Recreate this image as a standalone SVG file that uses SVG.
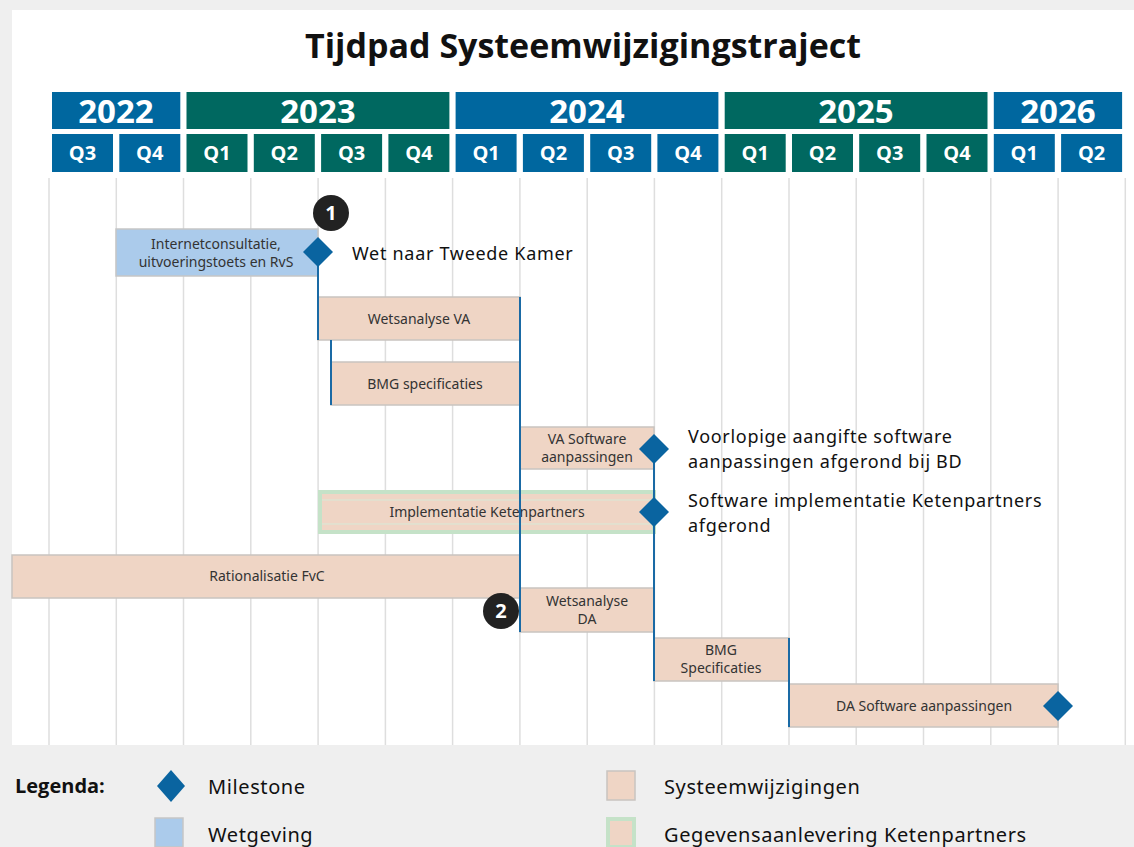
<svg xmlns="http://www.w3.org/2000/svg" width="1134" height="847" viewBox="0 0 1134 847">
<style>
.bg{fill:#efefef}
.panel{fill:#ffffff}
.grid{stroke:#dedede;stroke-width:1.5}
.yb{fill:#00679f}
.yt{fill:#006860}
.yr{font-family:"Open Sans","Noto Sans",sans-serif;font-weight:700;font-size:33px;fill:#fff;text-anchor:middle}
.qr{font-family:"Open Sans","Noto Sans",sans-serif;font-weight:700;font-size:20px;fill:#fff;text-anchor:middle}
.title{font-family:"Open Sans","Noto Sans",sans-serif;font-weight:700;font-size:34px;fill:#111;text-anchor:middle}
.sys{fill:#efd5c5;stroke:#c9c4c0;stroke-width:1.5}
.wet{fill:#abcbeb;stroke:#c6c6c6;stroke-width:1.5}
.gev{fill:#efd5c5;stroke:#c5e2c8;stroke-width:4}
.bt{font-family:"Noto Sans","Open Sans",sans-serif;font-size:14px;fill:#333;text-anchor:middle}
.ml{font-family:"Noto Sans","Open Sans",sans-serif;font-size:18px;letter-spacing:0.7px;fill:#111}
.ms{fill:#0a64a0}
.con{stroke:#1a6aa5;stroke-width:2;fill:none}
.num{fill:#222}
.nt{font-family:"Open Sans","Noto Sans",sans-serif;font-weight:700;font-size:20px;fill:#fff;text-anchor:middle}
.lg{font-family:"Noto Sans","Open Sans",sans-serif;font-size:20px;letter-spacing:0.6px;fill:#111}
.lgb{font-family:"Open Sans","Noto Sans",sans-serif;font-size:20px;font-weight:700;fill:#111}
</style>
<rect class="bg" x="0" y="0" width="1134" height="847"/>
<rect class="panel" x="12" y="10" width="1122" height="735"/>
<text class="title" x="583" y="58">Tijdpad Systeemwijzigingstraject</text>

<g id="header">
<rect class="yb" x="52" y="92" width="128.3" height="37"/>
<rect class="yt" x="186.5" y="92" width="262.9" height="37"/>
<rect class="yb" x="455.6" y="92" width="262.8" height="37"/>
<rect class="yt" x="724.7" y="92" width="262.8" height="37"/>
<rect class="yb" x="993.8" y="92" width="128.3" height="37"/>
<text class="yr" x="116" y="123">2022</text>
<text class="yr" x="318" y="123">2023</text>
<text class="yr" x="587" y="123">2024</text>
<text class="yr" x="856" y="123">2025</text>
<text class="yr" x="1058" y="123">2026</text>
<rect class="yb" x="52" y="134" width="61" height="38"/>
<rect class="yb" x="119.3" y="134" width="61" height="38"/>
<rect class="yt" x="186.5" y="134" width="61" height="38"/>
<rect class="yt" x="253.8" y="134" width="61" height="38"/>
<rect class="yt" x="321.1" y="134" width="61" height="38"/>
<rect class="yt" x="388.4" y="134" width="61" height="38"/>
<rect class="yb" x="455.6" y="134" width="61" height="38"/>
<rect class="yb" x="522.9" y="134" width="61" height="38"/>
<rect class="yb" x="590.2" y="134" width="61" height="38"/>
<rect class="yb" x="657.4" y="134" width="61" height="38"/>
<rect class="yt" x="724.7" y="134" width="61" height="38"/>
<rect class="yt" x="792" y="134" width="61" height="38"/>
<rect class="yt" x="859.2" y="134" width="61" height="38"/>
<rect class="yt" x="926.5" y="134" width="61" height="38"/>
<rect class="yb" x="993.8" y="134" width="61" height="38"/>
<rect class="yb" x="1061.1" y="134" width="61" height="38"/>
<text class="qr" x="82.5" y="160">Q3</text>
<text class="qr" x="149.8" y="160">Q4</text>
<text class="qr" x="217" y="160">Q1</text>
<text class="qr" x="284.3" y="160">Q2</text>
<text class="qr" x="351.6" y="160">Q3</text>
<text class="qr" x="418.9" y="160">Q4</text>
<text class="qr" x="486.1" y="160">Q1</text>
<text class="qr" x="553.4" y="160">Q2</text>
<text class="qr" x="620.7" y="160">Q3</text>
<text class="qr" x="687.9" y="160">Q4</text>
<text class="qr" x="755.2" y="160">Q1</text>
<text class="qr" x="822.5" y="160">Q2</text>
<text class="qr" x="889.7" y="160">Q3</text>
<text class="qr" x="957" y="160">Q4</text>
<text class="qr" x="1024.3" y="160">Q1</text>
<text class="qr" x="1091.6" y="160">Q2</text>
</g>

<g id="grid">
<line class="grid" x1="49" y1="178" x2="49" y2="745"/>
<line class="grid" x1="116.3" y1="178" x2="116.3" y2="745"/>
<line class="grid" x1="183.5" y1="178" x2="183.5" y2="745"/>
<line class="grid" x1="250.8" y1="178" x2="250.8" y2="745"/>
<line class="grid" x1="318.1" y1="178" x2="318.1" y2="745"/>
<line class="grid" x1="385.4" y1="178" x2="385.4" y2="745"/>
<line class="grid" x1="452.6" y1="178" x2="452.6" y2="745"/>
<line class="grid" x1="519.9" y1="178" x2="519.9" y2="745"/>
<line class="grid" x1="587.2" y1="178" x2="587.2" y2="745"/>
<line class="grid" x1="654.4" y1="178" x2="654.4" y2="745"/>
<line class="grid" x1="721.7" y1="178" x2="721.7" y2="745"/>
<line class="grid" x1="789" y1="178" x2="789" y2="745"/>
<line class="grid" x1="856.2" y1="178" x2="856.2" y2="745"/>
<line class="grid" x1="923.5" y1="178" x2="923.5" y2="745"/>
<line class="grid" x1="990.8" y1="178" x2="990.8" y2="745"/>
<line class="grid" x1="1058.1" y1="178" x2="1058.1" y2="745"/>
<line class="grid" x1="1125.3" y1="178" x2="1125.3" y2="745"/>
</g>

<g id="internetconsultatie">
<rect class="wet" x="116" y="229" width="202" height="47"/>
<text class="bt" x="216" y="249">Internetconsultatie,</text>
<text class="bt" x="216" y="267">uitvoeringstoets en RvS</text>
</g>
<g id="wetsanalyse-va">
<rect class="sys" x="318" y="297" width="202" height="43"/>
<text class="bt" x="419" y="324">Wetsanalyse VA</text>
</g>
<g id="bmg-specificaties">
<rect class="sys" x="331" y="362" width="189" height="43"/>
<text class="bt" x="425" y="389">BMG specificaties</text>
</g>
<g id="va-software">
<rect class="sys" x="520" y="427" width="134" height="42"/>
<text class="bt" x="587" y="444">VA Software</text>
<text class="bt" x="587" y="462">aanpassingen</text>
</g>
<g id="implementatie-ketenpartners">
<rect class="gev" x="320" y="492" width="334" height="40"/>
<line x1="322" y1="500" x2="652" y2="500" stroke="#d7ead8" stroke-width="1"/>
<line x1="322" y1="524" x2="652" y2="524" stroke="#d7ead8" stroke-width="1"/>
<text class="bt" x="487" y="517">Implementatie Ketenpartners</text>
</g>
<g id="rationalisatie-fvc">
<rect class="sys" x="12" y="555" width="508" height="43"/>
<text class="bt" x="267" y="581">Rationalisatie FvC</text>
</g>
<g id="wetsanalyse-da">
<rect class="sys" x="520" y="588" width="134" height="44"/>
<text class="bt" x="587" y="606">Wetsanalyse</text>
<text class="bt" x="587" y="624">DA</text>
</g>
<g id="bmg-specificaties-2">
<rect class="sys" x="654" y="638" width="135" height="43"/>
<text class="bt" x="721" y="655">BMG</text>
<text class="bt" x="721" y="673">Specificaties</text>
</g>
<g id="da-software">
<rect class="sys" x="789" y="684" width="269" height="43"/>
<text class="bt" x="924" y="711">DA Software aanpassingen</text>
</g>

<g id="connectors">
<line class="con" x1="318" y1="252" x2="318" y2="340"/>
<line class="con" x1="331" y1="340" x2="331" y2="405"/>
<line class="con" x1="520" y1="297" x2="520" y2="632"/>
<line class="con" x1="654" y1="449" x2="654" y2="681"/>
<line class="con" x1="789" y1="638" x2="789" y2="727"/>
</g>

<g id="milestone-1">
<polygon class="ms" points="318,237 333,252 318,267 303,252"/>
<text class="ml" x="352" y="260">Wet naar Tweede Kamer</text>
</g>
<g id="milestone-2">
<polygon class="ms" points="654,434 669,449 654,464 639,449"/>
<text class="ml" x="688" y="443">Voorlopige aangifte software</text>
<text class="ml" x="688" y="468">aanpassingen afgerond bij BD</text>
</g>
<g id="milestone-3">
<polygon class="ms" points="654,497 669,512 654,527 639,512"/>
<text class="ml" x="688" y="507">Software implementatie Ketenpartners</text>
<text class="ml" x="688" y="532">afgerond</text>
</g>
<g id="milestone-4">
<polygon class="ms" points="1058,691 1073,706 1058,721 1043,706"/>
</g>
<g id="badge-1">
<circle class="num" cx="331" cy="213" r="18"/>
<text class="nt" x="331" y="220">1</text>
</g>
<g id="badge-2">
<circle class="num" cx="501" cy="611" r="18"/>
<text class="nt" x="501" y="618">2</text>
</g>

<g id="legend">
<text class="lgb" x="15" y="793">Legenda:</text>
<polygon class="ms" points="171,770 185,786 171,802 157,786"/>
<text class="lg" x="208" y="794">Milestone</text>
<rect class="wet" x="155" y="818" width="28" height="29"/>
<text class="lg" x="208" y="842">Wetgeving</text>
<rect class="sys" x="607" y="771" width="28" height="29"/>
<text class="lg" x="664" y="794">Systeemwijzigingen</text>
<rect class="gev" x="608" y="819" width="26" height="28" stroke-width="2"/>
<text class="lg" x="664" y="842">Gegevensaanlevering Ketenpartners</text>
</g>
</svg>
